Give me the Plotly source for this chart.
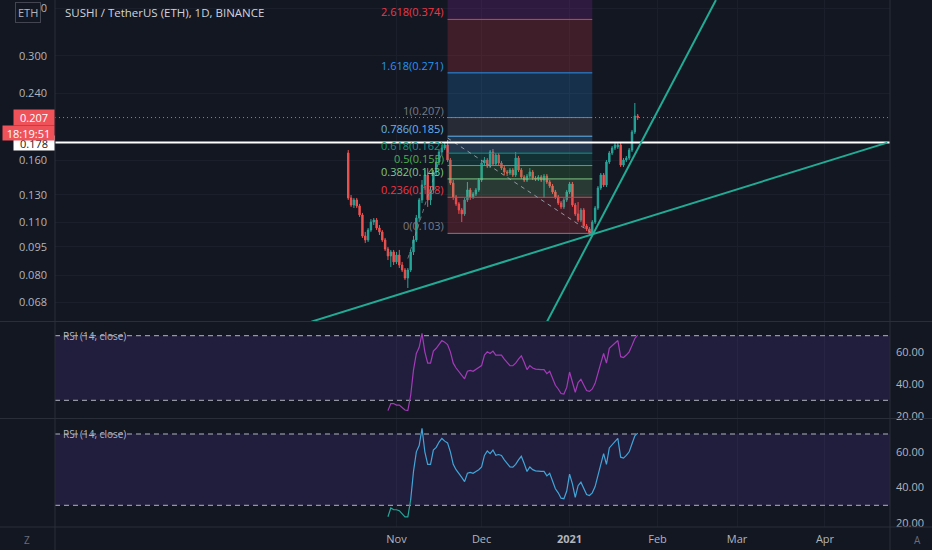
import math
import pandas as pd
import plotly.graph_objects as go

# ---------------- data ----------------
dates = pd.date_range("2020-10-15", "2021-01-25", freq="D")

opens = [
    0.1672, 0.1275, 0.1222, 0.1260, 0.1215, 0.1151, 0.1014, 0.0990, 0.1051, 0.1103,
    0.1116, 0.1064, 0.1039, 0.0990, 0.0937, 0.0899, 0.0921, 0.0867, 0.0904, 0.0851,
    0.0826, 0.0787, 0.0826, 0.0921, 0.0990, 0.1130, 0.1260, 0.1379, 0.1464, 0.1260,
    0.1338, 0.1491, 0.1584, 0.1682, 0.1723, 0.1755, 0.1603, 0.1395, 0.1282, 0.1230,
    0.1186, 0.1158, 0.1260, 0.1338, 0.1282, 0.1306, 0.1338, 0.1421, 0.1574, 0.1603,
    0.1546, 0.1682, 0.1565, 0.1652, 0.1574, 0.1527, 0.1491, 0.1482, 0.1509, 0.1464,
    0.1622, 0.1509, 0.1447, 0.1421, 0.1455, 0.1491, 0.1438, 0.1429, 0.1447, 0.1421,
    0.1455, 0.1404, 0.1370, 0.1322, 0.1282, 0.1237, 0.1208, 0.1260, 0.1322, 0.1387,
    0.1222, 0.1158, 0.1116, 0.1186, 0.1077, 0.1058, 0.1032, 0.1103, 0.1200, 0.1354,
    0.1464, 0.1379, 0.1584, 0.1672, 0.1723, 0.1734, 0.1755, 0.1555, 0.1603, 0.1622,
    0.1702, 0.1898, 0.2090]
highs = [
    0.1702, 0.1298, 0.1275, 0.1275, 0.1230, 0.1165, 0.1039, 0.1064, 0.1123, 0.1130,
    0.1130, 0.1083, 0.1051, 0.1002, 0.0949, 0.0932, 0.0932, 0.0921, 0.0932, 0.0867,
    0.0836, 0.0836, 0.0932, 0.1014, 0.1151, 0.1275, 0.1421, 0.1509, 0.1527, 0.1370,
    0.1509, 0.1622, 0.1702, 0.1755, 0.1776, 0.1808, 0.1622, 0.1421, 0.1298, 0.1244,
    0.1200, 0.1275, 0.1404, 0.1354, 0.1322, 0.1354, 0.1438, 0.1603, 0.1632, 0.1622,
    0.1702, 0.1713, 0.1672, 0.1672, 0.1593, 0.1546, 0.1509, 0.1527, 0.1527, 0.1682,
    0.1642, 0.1527, 0.1464, 0.1473, 0.1527, 0.1509, 0.1455, 0.1464, 0.1464, 0.1473,
    0.1473, 0.1421, 0.1387, 0.1338, 0.1298, 0.1252, 0.1275, 0.1338, 0.1404, 0.1404,
    0.1237, 0.1244, 0.1200, 0.1200, 0.1090, 0.1070, 0.1116, 0.1215, 0.1370, 0.1482,
    0.1482, 0.1603, 0.1692, 0.1744, 0.1776, 0.1776, 0.1776, 0.1622, 0.1642, 0.1723,
    0.1921, 0.2260, 0.2115]
lows = [
    0.1260, 0.1208, 0.1200, 0.1200, 0.1137, 0.1002, 0.0972, 0.0978, 0.1039, 0.1083,
    0.1051, 0.1020, 0.0978, 0.0926, 0.0877, 0.0841, 0.0851, 0.0856, 0.0836, 0.0816,
    0.0778, 0.0741, 0.0816, 0.0904, 0.0978, 0.1103, 0.1237, 0.1338, 0.1208, 0.1222,
    0.1314, 0.1464, 0.1555, 0.1652, 0.1702, 0.1584, 0.1379, 0.1260, 0.1215, 0.1158,
    0.1103, 0.1144, 0.1244, 0.1260, 0.1267, 0.1290, 0.1322, 0.1404, 0.1546, 0.1527,
    0.1527, 0.1546, 0.1546, 0.1555, 0.1509, 0.1464, 0.1455, 0.1464, 0.1447, 0.1447,
    0.1491, 0.1429, 0.1404, 0.1404, 0.1438, 0.1421, 0.1412, 0.1412, 0.1404, 0.1275,
    0.1387, 0.1354, 0.1306, 0.1267, 0.1222, 0.1193, 0.1193, 0.1244, 0.1306, 0.1208,
    0.1144, 0.1103, 0.1103, 0.1064, 0.1045, 0.1014, 0.1020, 0.1090, 0.1186, 0.1338,
    0.1362, 0.1362, 0.1565, 0.1652, 0.1702, 0.1713, 0.1537, 0.1537, 0.1584, 0.1603,
    0.1682, 0.1875, 0.2040]
closes = [
    0.1275, 0.1222, 0.1260, 0.1215, 0.1151, 0.1014, 0.0990, 0.1051, 0.1103, 0.1116,
    0.1064, 0.1039, 0.0990, 0.0937, 0.0899, 0.0921, 0.0867, 0.0904, 0.0851, 0.0826,
    0.0787, 0.0826, 0.0921, 0.0990, 0.1130, 0.1260, 0.1379, 0.1464, 0.1260, 0.1338,
    0.1491, 0.1584, 0.1682, 0.1723, 0.1755, 0.1603, 0.1395, 0.1282, 0.1230, 0.1186,
    0.1158, 0.1260, 0.1338, 0.1282, 0.1306, 0.1338, 0.1421, 0.1574, 0.1603, 0.1546,
    0.1682, 0.1565, 0.1652, 0.1574, 0.1527, 0.1491, 0.1482, 0.1509, 0.1464, 0.1622,
    0.1509, 0.1447, 0.1421, 0.1455, 0.1491, 0.1438, 0.1429, 0.1447, 0.1421, 0.1455,
    0.1404, 0.1370, 0.1322, 0.1282, 0.1237, 0.1208, 0.1260, 0.1322, 0.1387, 0.1222,
    0.1158, 0.1116, 0.1186, 0.1077, 0.1058, 0.1032, 0.1103, 0.1200, 0.1354, 0.1464,
    0.1379, 0.1584, 0.1672, 0.1723, 0.1755, 0.1755, 0.1555, 0.1603, 0.1622, 0.1702,
    0.1898, 0.2090, 0.2070]

# RSI(14) readings, first value on 2020-10-29
rsi_start = "2020-10-29"
rsi_top = [23.6, 28, 28, 27, 27, 25.5, 24, 23.6, 33, 48.8,
           59, 62.8, 71.5, 60, 53, 53, 60.5, 62.2, 65, 67,
           66, 64.5, 60, 53, 50, 47.5, 45.7, 43.3, 48, 48.5,
           48, 49, 50, 51.5, 58, 60, 59, 60.5, 58, 58,
           58, 55.5, 53.5, 51.5, 51.4, 53, 55.5, 57.5, 53.5, 49,
           51.5, 50, 49.3, 49, 49, 49, 46.5, 48, 43.5, 39.3,
           37, 34.2, 33.9, 38, 47.5, 42, 35, 41, 43, 39.5,
           36, 35.5, 37, 40.5, 46, 53, 59, 53, 62.2, 64,
           65.3, 67, 57, 56.5, 58, 60, 64, 68.3, 70.4]
rsi_bottom = [23.6, 28.5, 27.5, 27.5, 27, 25, 23.5, 23.5, 33, 49,
              60, 63.5, 73.2, 60, 53, 53, 61, 62.5, 65.5, 67.5,
              66, 65, 60, 53, 50, 47.5, 45.7, 43.3, 48, 48.5,
              48, 49, 50, 51.5, 58, 60.5, 59, 61, 58, 58.5,
              58, 55.5, 53.5, 51.5, 51.4, 53, 55.5, 57.5, 53.5, 49,
              51.5, 50, 49.3, 49, 49, 49, 46.5, 48, 43.5, 39.3,
              37, 34, 33.7, 38, 47.5, 42, 34.5, 41, 43, 39.5,
              36, 35.5, 37, 40.5, 46, 53, 59, 53, 62.2, 64,
              65.5, 67.5, 57, 56.5, 58, 60, 64.5, 69, 70.5]
rsi_levels = [30, 70]

# Fibonacci retracement (anchored Nov 19 -> Jan 9)
fib_x = ["2020-11-19", "2021-01-09"]
fib_levels = [0, 0.236, 0.382, 0.5, 0.618, 0.786, 1, 1.618, 2.618, 3.618]
fib_prices = [0.103, 0.128, 0.143, 0.155, 0.167, 0.185, 0.207, 0.271, 0.374, 0.479]
fib_labels = ["0(0.103)", "0.236(0.128)", "0.382(0.143)", "0.5(0.155)", "0.618(0.162)",
              "0.786(0.185)", "1(0.207)", "1.618(0.271)", "2.618(0.374)", ""]
fib_colors = ["#787b86", "#f23645", "#81c784", "#4caf50", "#089981",
              "#64b5f6", "#787b86", "#2196f3", "#f23645", "#9c27b0"]
fib_diag_x = ["2020-11-19", "2021-01-09"]
fib_diag_y = [0.183, 0.103]
old_diag_x = ["2020-11-05", "2020-11-17"]
old_diag_y = [0.0885, 0.168]

# trend lines
trend_a_x = ["2020-10-02", "2021-04-23"]
trend_a_y = [0.0605, 0.178]
trend_b_x = ["2020-12-24", "2021-02-21 14:00"]
trend_b_y = [0.0604, 0.4204]

support_level = 0.178
last_price = 0.207
countdown = "18:19:51"

price_ticks = [0.068, 0.080, 0.095, 0.110, 0.130, 0.160, 0.240, 0.300, 0.400]
price_tick_text = ["0.068", "0.080", "0.095", "0.110", "0.130", "0.160", "0.240", "0.300", "0.400"]
month_ticks = ["2020-11-01", "2020-12-01", "2021-01-01", "2021-02-01", "2021-03-01", "2021-04-01"]
month_text = ["Nov", "Dec", "<b>2021</b>", "Feb", "Mar", "Apr"]
rsi_ticks = [20, 40, 60]
rsi_tick_text = ["20.00", "40.00", "60.00"]

# ---------------- styling / layout ----------------
BG = "#131722"
GRID = "#1b1f2b"
SEP = "#2a2e39"
TXT = "#b2b5be"
FONT = "Open Sans"
X_RANGE = ["2020-07-03 16:00", "2021-04-23 22:00"]
W, H = 932, 550
ML, MR, MT, MB = 55, 42, 0, 23
PW, PH = W - ML - MR, H - MT - MB


def px(xp):
    return (xp - ML) / PW


def py(yp):
    return (H - MB - yp) / PH


main_dom = [py(322), 1]
rsi1_dom = [py(419), py(322)]
rsi2_dom = [0, py(419)]

fig = go.Figure()

# fib zones
for i in range(len(fib_levels) - 1):
    lo, hi = fib_prices[i], fib_prices[i + 1]
    c = fib_colors[i + 1].lstrip("#")
    r, g, b = int(c[0:2], 16), int(c[2:4], 16), int(c[4:6], 16)
    fig.add_trace(go.Scatter(
        x=[fib_x[0], fib_x[1], fib_x[1], fib_x[0], fib_x[0]],
        y=[lo, lo, hi, hi, lo], mode="lines", fill="toself",
        fillcolor=f"rgba({r},{g},{b},0.2)", line=dict(width=0),
        hoverinfo="skip", xaxis="x", yaxis="y"))
for i in range(len(fib_levels) - 1):
    fig.add_trace(go.Scatter(
        x=fib_x, y=[fib_prices[i]] * 2, mode="lines",
        line=dict(color=fib_colors[i], width=1), hoverinfo="skip",
        xaxis="x", yaxis="y"))

# dashed diagonals
fig.add_trace(go.Scatter(x=fib_diag_x, y=fib_diag_y, mode="lines",
                         line=dict(color="#9598a1", width=1, dash="4px,4px"),
                         hoverinfo="skip"))
fig.add_trace(go.Scatter(x=old_diag_x, y=old_diag_y, mode="lines",
                         line=dict(color="#9598a1", width=1, dash="4px,4px"),
                         opacity=0.7, hoverinfo="skip"))

# last price dotted line and support line
fig.add_trace(go.Scatter(x=X_RANGE, y=[last_price] * 2, mode="lines",
                         line=dict(color="#8f7f87", width=1, dash="1px,3px"),
                         hoverinfo="skip"))
fig.add_trace(go.Scatter(x=X_RANGE, y=[support_level] * 2, mode="lines",
                         line=dict(color="#ffffff", width=2), hoverinfo="skip"))

# candles
fig.add_trace(go.Candlestick(
    x=dates, open=opens, high=highs, low=lows, close=closes,
    increasing=dict(line=dict(color="#26a69a", width=1), fillcolor="#26a69a"),
    decreasing=dict(line=dict(color="#ef5350", width=1), fillcolor="#ef5350"),
    whiskerwidth=0, hoverinfo="skip", xaxis="x", yaxis="y"))

# trend lines
for tx, ty in [(trend_a_x, trend_a_y), (trend_b_x, trend_b_y)]:
    fig.add_trace(go.Scatter(x=tx, y=ty, mode="lines",
                             line=dict(color="#22ab94", width=2), hoverinfo="skip"))

# RSI panels
rsi_dates = pd.date_range(rsi_start, periods=len(rsi_top), freq="D")
for yax in ["y2", "y3"]:
    fig.add_trace(go.Scatter(x=X_RANGE, y=[rsi_levels[0]] * 2, mode="lines",
                             line=dict(width=0), hoverinfo="skip", yaxis=yax))
    fig.add_trace(go.Scatter(x=X_RANGE, y=[rsi_levels[1]] * 2, mode="lines",
                             line=dict(width=0), fill="tonexty",
                             fillcolor="rgba(115,60,200,0.16)", hoverinfo="skip", yaxis=yax))
    for lv in rsi_levels:
        fig.add_trace(go.Scatter(x=X_RANGE, y=[lv] * 2, mode="lines",
                                 line=dict(color="#b2b5be", width=1, dash="5px,4px"),
                                 hoverinfo="skip", yaxis=yax))

fig.add_trace(go.Scatter(x=rsi_dates, y=rsi_top, mode="lines",
                         line=dict(color="#a33bb9", width=1.2), hoverinfo="skip", yaxis="y2"))
fig.add_trace(go.Scatter(x=rsi_dates[:9], y=rsi_bottom[:9], mode="lines",
                         line=dict(color="#26a69a", width=1.2), hoverinfo="skip", yaxis="y3"))
fig.add_trace(go.Scatter(x=rsi_dates[8:], y=rsi_bottom[8:], mode="lines",
                         line=dict(color="#42a5d8", width=1.2), hoverinfo="skip", yaxis="y3"))

# ---------------- annotations ----------------
ann = []
ann.append(dict(text="SUSHI / TetherUS (ETH), 1D, BINANCE", xref="paper", yref="paper",
                x=px(63), y=py(13), xanchor="left", yanchor="middle", showarrow=False,
                font=dict(size=11.5, color="#d1d4dc", family=FONT)))
ann.append(dict(text="ETH", xref="paper", yref="paper", x=px(28), y=py(12),
                xanchor="center", yanchor="middle", showarrow=False,
                bgcolor=BG, bordercolor="#434651", borderwidth=1, borderpad=2,
                font=dict(size=11, color=TXT, family=FONT)))
ann.append(dict(text=f"{support_level:.3f}", xref="paper", yref="y", x=0,
                y=math.log10(support_level), xanchor="right", yanchor="middle",
                showarrow=False, bgcolor="#ffffff", width=38, height=12, borderpad=1,
                font=dict(size=11, color="#131722", family=FONT)))
ann.append(dict(text=f"{last_price:.3f}", xref="paper", yref="y", x=0,
                y=math.log10(last_price), xanchor="right", yanchor="middle",
                showarrow=False, bgcolor="#f0525a", width=38, height=13, borderpad=1,
                font=dict(size=11, color="#ffffff", family=FONT)))
ann.append(dict(text=countdown, xref="paper", yref="paper", x=0, y=py(133),
                xanchor="right", yanchor="middle", showarrow=False, bgcolor="#f0525a",
                width=49, height=12, borderpad=1,
                font=dict(size=11, color="#ffffff", family=FONT)))
for lab, pr, col in zip(fib_labels, fib_prices, fib_colors):
    if not lab:
        continue
    ann.append(dict(text=lab, xref="x", yref="y", x=fib_x[0], y=math.log10(pr),
                    xanchor="right", yanchor="bottom", xshift=-2, yshift=-2,
                    showarrow=False, font=dict(size=11, color=col, family=FONT)))
for yax in ["y2", "y3"]:
    ann.append(dict(text="RSI (14, close)", xref="paper", yref=yax, x=px(61),
                    y=rsi_levels[1], xanchor="left", yanchor="middle", showarrow=False,
                    font=dict(size=10, color=TXT, family=FONT)))
ann.append(dict(text="Z", xref="paper", yref="paper", x=px(27), y=py(540),
                xanchor="center", yanchor="middle", showarrow=False,
                font=dict(size=10, color="#6a6d78", family=FONT)))
ann.append(dict(text="A", xref="paper", yref="paper", x=px(917), y=py(540),
                xanchor="center", yanchor="middle", showarrow=False,
                font=dict(size=10, color="#6a6d78", family=FONT)))

# separators
shapes = []
for yp in [321.5, 418.5, 527]:
    shapes.append(dict(type="line", xref="paper", yref="paper", x0=px(0), x1=px(W),
                       y0=py(yp), y1=py(yp), line=dict(color=SEP, width=1), layer="above"))
for xp in [55, 890]:
    shapes.append(dict(type="line", xref="paper", yref="paper", x0=px(xp), x1=px(xp),
                       y0=py(H), y1=1, line=dict(color=SEP, width=1), layer="above"))

fig.update_layout(
    width=W, height=H, margin=dict(l=ML, r=MR, t=MT, b=MB),
    paper_bgcolor=BG, plot_bgcolor=BG, showlegend=False,
    font=dict(family=FONT, color=TXT, size=11),
    annotations=ann, shapes=shapes,
    xaxis=dict(type="date", range=X_RANGE, anchor="y3", tickvals=month_ticks,
               ticktext=month_text, showgrid=True, gridcolor=GRID, zeroline=False,
               showline=False, ticks="", tickfont=dict(size=11, color=TXT),
               ticklabelstandoff=4, rangeslider=dict(visible=False), fixedrange=True),
    yaxis=dict(type="log", domain=main_dom,
               range=[math.log10(0.060372), math.log10(0.42042)],
               tickvals=price_ticks, ticktext=price_tick_text, side="left",
               showgrid=True, gridcolor=GRID, zeroline=False, ticks="",
               tickfont=dict(size=11, color=TXT), ticklabelstandoff=7, anchor="x"),
    yaxis2=dict(domain=rsi1_dom, range=[18.42, 78.48], side="right", anchor="x",
                tickvals=rsi_ticks, ticktext=rsi_tick_text, showgrid=False,
                zeroline=False, ticks="", tickfont=dict(size=11, color=TXT),
                ticklabelstandoff=5),
    yaxis3=dict(domain=rsi2_dom, range=[17.83, 78.42], side="right", anchor="x",
                tickvals=rsi_ticks, ticktext=rsi_tick_text, showgrid=False,
                zeroline=False, ticks="", tickfont=dict(size=11, color=TXT),
                ticklabelstandoff=5),
)

fig.write_html(
    "out.html",
    config={"displayModeBar": False},
    post_script="document.body.style.margin='0';document.body.style.padding='0';"
                "document.body.style.background='#131722';"
                "document.body.style.overflow='hidden';",
)
